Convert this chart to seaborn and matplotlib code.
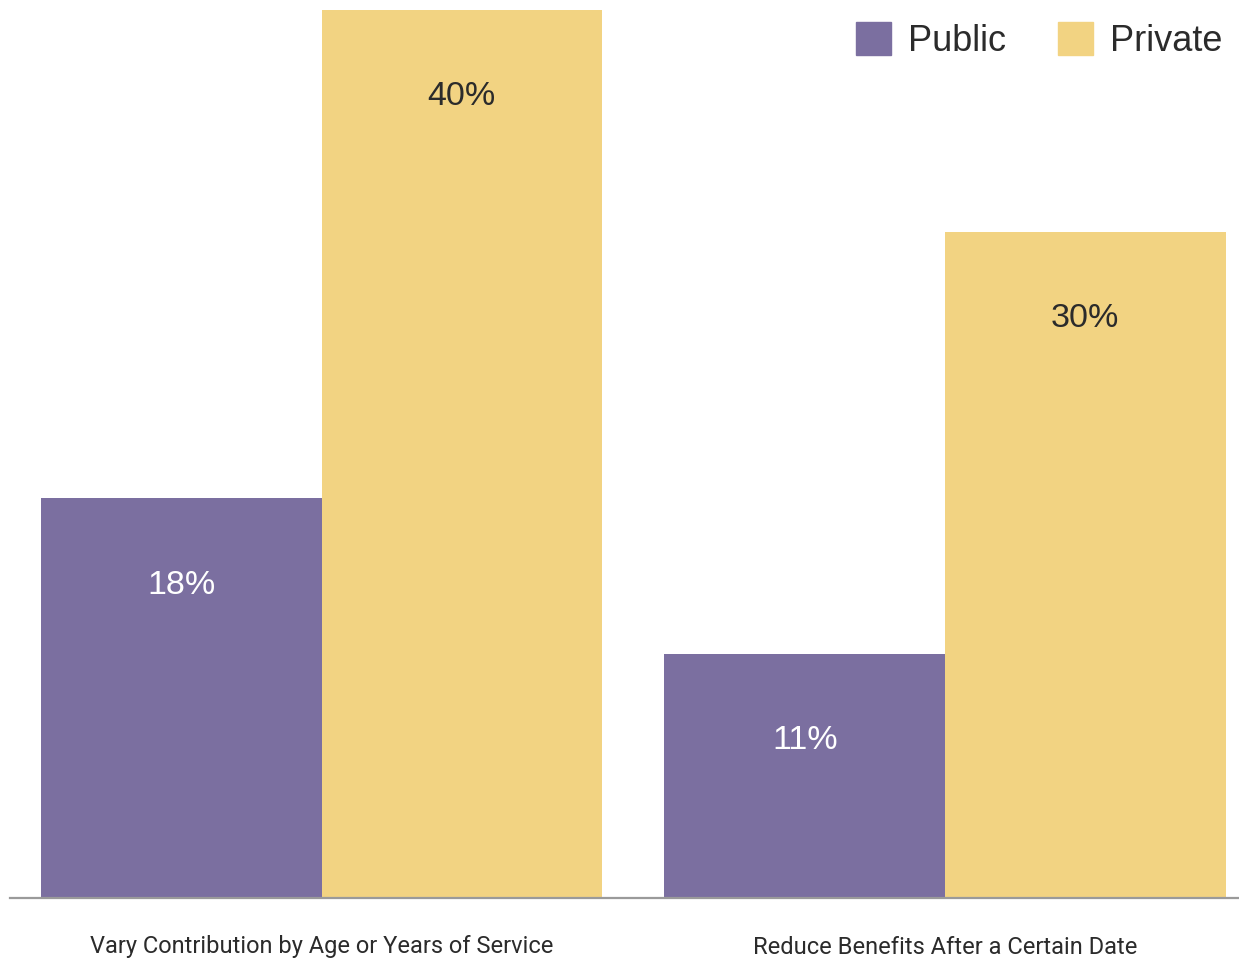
import pandas as pd
import seaborn as sns
import matplotlib.pyplot as plt

# データ
categories = ['Vary Contribution by Age or Years of Service', 'Reduce Benefits After a Certain Date']
public_vals = [18, 11]
private_vals = [40, 30]
series = ['Public', 'Private']
colors = {'Public': '#7B6FA0', 'Private': '#F2D382'}

df = pd.DataFrame({
    'category': categories * 2,
    'sector': ['Public'] * len(categories) + ['Private'] * len(categories),
    'value': public_vals + private_vals,
})

sns.set_style('white')
plt.rcParams['font.family'] = ['Liberation Sans', 'DejaVu Sans']

fig = plt.figure(figsize=(12.39, 9.6), dpi=100)
ax = fig.add_axes([10 / 1239, 62 / 960, 1229 / 1239, 898 / 960])

sns.barplot(data=df, x='category', y='value', hue='sector', hue_order=series,
            palette=colors, width=0.9, saturation=1, gap=0, linewidth=0,
            ax=ax, legend=False)

ax.set_xlim(-0.4996, 1.4715)
ax.set_ylim(0, 40.45)

# 値ラベル
for cont, s in zip(ax.containers, series):
    col = 'white' if s == 'Public' else '#2B2B2B'
    for bar in cont:
        h = bar.get_height()
        ax.annotate(f'{h:.0f}%', (bar.get_x() + bar.get_width() / 2, h),
                    xytext=(0, -62.5), textcoords='offset points',
                    ha='center', va='center', fontsize=24.5, color=col)

for sp in ['top', 'right', 'left']:
    ax.spines[sp].set_visible(False)
ax.spines['bottom'].set_color('#9A9A9A')
ax.spines['bottom'].set_linewidth(1.6)
ax.set_yticks([])
ax.set_xlabel('')
ax.set_ylabel('')
ax.tick_params(axis='x', length=0, pad=27)
for lab in ax.get_xticklabels():
    lab.set_family(['Roboto', 'DejaVu Sans'])
    lab.set_fontsize(17)
    lab.set_color('#2B2B2B')

# 凡例
handles = [plt.Rectangle((0, 0), 1, 1, color=colors[s]) for s in series]
ax.legend(handles, series, loc='upper right', bbox_to_anchor=(1222 / 1239, 1 - 22 / 960),
          bbox_transform=fig.transFigure, ncol=2, frameon=False, fontsize=26,
          handlelength=0.97, handleheight=1.05, handletextpad=0.47,
          columnspacing=1.44, borderpad=0, borderaxespad=0, labelcolor='#2B2B2B')

plt.savefig('out.png', dpi=100)
